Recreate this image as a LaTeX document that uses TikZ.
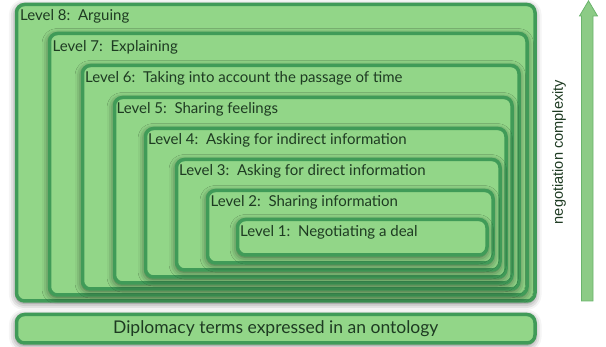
\documentclass[tikz,border=0pt]{standalone}
\usepackage{fontspec}
\setmainfont{Lato}
\newfontfamily\arialfont{Liberation Sans}
\usetikzlibrary{shadows.blur}
\definecolor{boxfill}{HTML}{92D688}
\definecolor{boxline}{HTML}{409B58}
\definecolor{txt}{HTML}{1E3B22}
\definecolor{arrfill}{HTML}{8CCB86}
\definecolor{arrline}{HTML}{6AB46C}
\begin{document}
\begin{tikzpicture}[x=1pt,y=-1pt,
  lvlbox/.style={fill=boxfill, draw=boxline, line width=3.5pt, rounded corners=8pt,
    anchor=north west, inner sep=0pt,
    blur shadow={shadow xshift=-0.5pt, shadow yshift=-2pt, shadow blur radius=7pt, shadow opacity=60}},
  lvltext/.style={anchor=base west, inner sep=0pt, text=txt, font=\fontsize{15}{17}\selectfont}]
\useasboundingbox (0,0) rectangle (606,347);
% nested boxes
\node[lvlbox, minimum width=518.5pt, minimum height=296.5pt] (b8) at (14.75,2.75) {};
\node[lvlbox, minimum width=477.5pt, minimum height=261.5pt] (b7) at (47.75,31.75) {};
\node[lvlbox, minimum width=436.5pt, minimum height=223.5pt] (b6) at (80.75,63.75) {};
\node[lvlbox, minimum width=397.5pt, minimum height=185.5pt] (b5) at (112.75,95.75) {};
\node[lvlbox, minimum width=360.5pt, minimum height=148.5pt] (b4) at (143.75,126.75) {};
\node[lvlbox, minimum width=323.5pt, minimum height=110.5pt] (b3) at (174.75,157.75) {};
\node[lvlbox, minimum width=285.5pt, minimum height=72.5pt] (b2) at (205.75,188.75) {};
\node[lvlbox, minimum width=249.5pt, minimum height=35.5pt] (b1) at (235.75,217.75) {};
% labels
\node[lvltext] (t8) at (20,21) {Level 8:\, Arguing};
\node[lvltext] (t7) at (52.5,51.7) {Level 7:\, Explaining};
\node[lvltext] (t6) at (85,82.3) {Level 6:\, Taking into account the passage of time};
\node[lvltext] (t5) at (116.5,114) {Level 5:\, Sharing feelings};
\node[lvltext] (t4) at (148,145) {Level 4:\, Asking for indirect information};
\node[lvltext] (t3) at (179,176) {Level 3:\, Asking for direct information};
\node[lvltext] (t2) at (210.5,207) {Level 2:\, Sharing information};
\node[lvltext] (t1) at (240,236.7) {Level 1:\, Negotiating a deal};
% bottom box
\node[lvlbox, minimum width=518.5pt, minimum height=28.5pt] (base) at (14.75,312.75) {};
\node[text=txt, font=\fontsize{17.5}{19}\selectfont, inner sep=0pt] (basetext) at (base.center) {Diplomacy terms expressed in an ontology};
% arrow
\draw[fill=arrfill, draw=arrline, line width=0.8pt, line join=miter]
  (581.5,301) -- (581.5,16) -- (579.5,16) -- (588.5,0.8) -- (597.5,16) -- (593,16) -- (593,301) -- cycle;
\node[rotate=90, text=txt, font=\arialfont\fontsize{14.6}{16}\selectfont, inner sep=0pt] (axis) at (559,152) {negotiation complexity};
\end{tikzpicture}
\end{document}
